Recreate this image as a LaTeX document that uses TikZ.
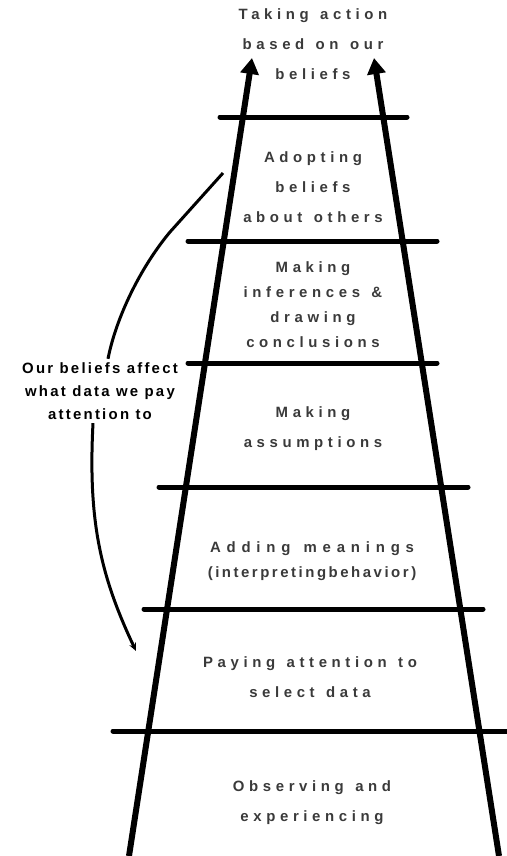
\documentclass[tikz,border=0pt]{standalone}
\usepackage{fontspec}
\usetikzlibrary{arrows.meta}
\newfontfamily\ladderfont[LetterSpace=31, WordSpace=1.3]{Liberation Sans}
\newfontfamily\notefont[LetterSpace=15]{Liberation Sans}
\definecolor{labelgray}{HTML}{3A3A3A}

\begin{document}
\begin{tikzpicture}[x=0.02cm, y=-0.02cm,
  rail/.style={line width=0.12cm, -{Triangle[width=0.36cm,length=0.32cm]}},
  rung/.style={line width=0.1cm, line cap=round},
  level/.style={align=center, text=labelgray, inner sep=0pt, font=\ladderfont\bfseries\fontsize{8.5}{17}\selectfont},
  tight/.style={font=\ladderfont\bfseries\fontsize{8.5}{14.2}\selectfont},
  note/.style={align=center, inner sep=2pt, font=\notefont\bfseries\fontsize{8.5}{13}\selectfont},
  feedback/.style={line width=0.06cm}]

\useasboundingbox (0,0) rectangle (507,856);

% ladder
\coordinate (lbot) at (129,856);
\coordinate (ltop) at (252,58);
\coordinate (rbot) at (499,856);
\coordinate (rtop) at (374,58);
\draw[rail] (lbot) -- (ltop);
\draw[rail] (rbot) -- (rtop);

\foreach \y/\a/\b in {117/220/407, 241/188/437, 363/188/437, 487/159/468, 609/144/483, 731/113/520}
  \draw[rung] (\a,\y) -- (\b,\y);

% levels
\node[level] (action) at (313,44) {Taking action\\based on our\\beliefs};
\node[level] (beliefs) at (313,187) {Adopting\\beliefs\\about others};
\node[level, tight] (inferences) at (313,305) {Making\\inferences \&\\drawing\\conclusions};
\node[level] (assume) at (313,429) {Making\\assumptions};
\node[level, tight] (meaning) at (312,561) {{\addfontfeature{LetterSpace=39}Adding meanings}\\{\addfontfeature{LetterSpace=17}(interpretingbehavior)}};
\node[level] (attend) at (310,677) {Paying attention to\\select data};
\node[level] (observe) at (312,803) {Observing and\\experiencing};

% reflexive loop
\node[note] (reflex) at (100,391) {Our beliefs affect\\what data we pay\\attention to};
\coordinate (from) at (223,173);
\coordinate (to) at (136,651);
\draw[feedback] (from) -- (170,232) .. controls (140,268) and (116,318) .. ([xshift=0.16cm]reflex.north);
\draw[feedback, -{Stealth[length=0.16cm,width=0.14cm]}] ([xshift=-0.14cm]reflex.south) .. controls (88,520) and (100,575) .. (to);

\end{tikzpicture}
\end{document}
